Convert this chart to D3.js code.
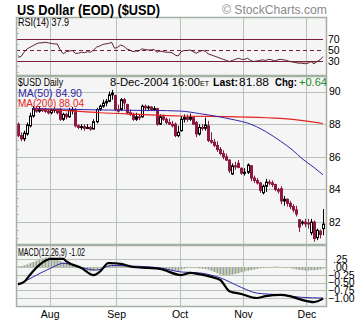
<!DOCTYPE html>
<html>
<head>
<meta charset="utf-8">
<script src="https://cdn.jsdelivr.net/npm/d3@7"></script>
<style>
  body { margin: 0; background: #fff; }
  svg { display: block; font-family: "Liberation Sans", Arial, sans-serif; }
  .axis text { font-size: 10.5px; fill: #000; font-family: "Liberation Sans", Arial, sans-serif; }
  .axis path, .axis line { display: none; }
</style>
</head>
<body>
<div id="chart"></div>
<script>
// trading days 16-Jul-2004 .. 8-Dec-2004, one entry per bar
const months = ["Aug", "Sep", "Oct", "Nov", "Dec"];
const monthStart = [11, 33, 54, 75, 96];

const open = [88.0,87.3,87.1,87.4,87.9,88.5,88.95,88.8,88.9,88.85,
  88.8,88.7,88.85,88.9,88.9,88.3,88.6,88.45,88.85,88.9,
  87.9,87.8,87.85,87.75,87.8,87.7,88.15,88.9,89.1,89.3,
  89.4,89.8,89.75,88.9,88.9,89.5,89.2,88.7,88.6,88.3,
  88.45,88.45,89.1,89.0,89.05,88.9,88.95,88.0,88.45,88.3,
  88.1,88.0,88.0,87.3,87.6,88.3,88.4,88.3,88.4,88.1,
  87.4,87.8,87.75,87.9,87.0,86.9,86.7,86.45,86.2,86.0,
  85.8,84.95,85.45,85.6,85.3,85.0,85.05,85.45,84.7,84.55,
  84.4,83.8,84.2,84.45,84.4,84.3,84.0,84.05,83.3,83.4,
  83.15,82.95,82.75,82.15,81.95,82.0,81.95,81.35,82.0,81.05,
  81.45,81.6];
const high = [88.1,87.5,87.6,88.1,88.7,89.1,89.1,89.1,89.0,89.0,
  88.95,88.95,89.05,88.95,89.0,88.7,88.7,89.0,89.05,89.0,
  88.0,88.0,88.0,88.0,87.9,88.3,89.0,89.2,89.5,89.55,
  90.0,90.1,89.8,89.2,89.6,89.6,89.25,88.9,88.7,88.7,
  88.6,89.2,89.2,89.15,89.1,89.1,89.0,88.6,88.6,88.4,
  88.35,88.2,88.1,87.9,88.5,88.6,88.6,88.65,88.5,88.2,
  88.0,88.0,88.4,88.2,87.5,87.1,86.95,86.6,86.4,86.2,
  85.85,85.6,85.7,85.8,85.35,85.3,85.6,85.5,84.85,84.7,
  84.45,84.3,84.65,84.6,84.55,84.35,84.1,84.2,83.6,83.45,
  83.3,83.1,83.0,82.15,82.1,82.2,82.2,82.2,82.1,81.6,
  81.55,82.8];
const low = [87.2,86.95,86.95,87.3,87.8,88.4,88.7,88.7,88.75,88.7,
  88.6,88.6,88.7,88.6,88.2,88.2,88.3,88.4,88.6,87.8,
  87.7,87.65,87.6,87.7,87.6,87.7,88.05,88.8,89.0,89.1,
  89.35,89.5,88.8,88.7,88.8,88.9,88.6,88.5,88.2,88.2,
  88.25,88.4,88.8,88.8,88.8,88.8,87.9,87.95,88.2,88.0,
  87.95,87.8,87.2,87.2,87.55,88.1,88.15,88.2,87.95,87.2,
  87.3,87.6,87.6,86.9,86.8,86.6,86.3,86.1,85.85,85.75,
  85.0,84.9,85.2,85.3,84.9,84.85,84.95,84.5,84.4,84.3,
  83.8,83.7,83.85,84.25,84.15,83.9,83.75,83.1,83.0,82.95,
  82.8,82.6,82.35,81.4,81.8,81.7,81.6,81.2,80.8,80.9,
  81.0,81.2];
const close = [87.3,87.1,87.45,87.95,88.5,88.95,88.8,88.9,88.85,88.8,
  88.7,88.85,88.9,88.7,88.3,88.6,88.45,88.85,88.9,87.9,
  87.8,87.85,87.75,87.8,87.7,88.15,88.9,89.1,89.3,89.4,
  89.8,89.9,88.9,88.8,89.5,89.3,88.7,88.6,88.3,88.45,
  88.4,89.1,89.0,89.05,88.9,88.95,88.0,88.45,88.3,88.1,
  88.0,87.9,87.3,87.5,88.3,88.4,88.3,88.45,88.0,87.4,
  87.8,87.75,87.95,87.0,86.9,86.7,86.45,86.2,86.0,85.8,
  85.15,85.45,85.4,85.35,85.0,85.05,85.5,84.7,84.55,84.4,
  83.95,84.2,84.45,84.4,84.3,84.0,83.9,83.3,83.4,83.15,
  82.95,82.75,82.5,81.7,82.0,81.9,81.9,82.0,81.0,81.5,
  81.24,81.88];

// moving averages, [bar, value]
const ma50 = [[5,88.95],[15,88.92],[25,88.88],[35,88.85],[45,88.84],[54,88.8],[60,88.65],
  [67,88.44],[72,88.25],[76,88.07],[82,87.55],[87,86.95],[91,86.4],[94,85.9],[98,85.35],[101,84.9]];
const ma200 = [[5,88.95],[15,88.85],[27,88.7],[40,88.6],[54,88.5],[73,88.45],[87,88.35],[95,88.2],[101,88.04]];

const rsi = [37,38,46,52,55,58,61,63,63,64,
  63,62,61,61,50,43,47,48,49,44,
  44,46,45,47,46,50,55,57,60,61,
  62,64,53,55,59,57,52,50,47,48,
  48,52,51,50,50,51,46,48,47,46,
  46,45,41,39,47,49,49,50,47,44,
  47,49,48,43,41,39,37,35,33,31,
  29,31,33,35,33,33,35,31,29,30,
  31,32,31,33,32,30,32,33,32,31,
  29,28,27,26,26,25,26,29,25,29,
  32,37.9];

const macd = [[0,-0.55],[2,-0.48],[4,-0.25],[7,0.06],[11,0.26],[15,0.26],[16,0.18],[21,-0.03],
  [25,-0.26],[27,-0.16],[30,0.13],[34,0.1],[38,0.0],[43,-0.03],[47,-0.06],[54,-0.26],[57,-0.19],
  [60,-0.23],[64,-0.32],[67,-0.42],[70,-0.78],[74,-0.87],[79,-1.0],[82,-0.94],[87,-0.9],
  [90,-0.94],[94,-1.06],[98,-1.13],[101,-1.02]];
const signal = [[0,-0.58],[5,-0.32],[11,-0.03],[15,0.12],[21,-0.02],[26,-0.1],[31,0.05],[38,0.03],
  [47,-0.03],[54,-0.16],[60,-0.19],[67,-0.35],[74,-0.66],[79,-0.84],[87,-0.9],[94,-0.98],[101,-1.0]];
const hist = [0.02,0.03,0.05,0.08,0.12,0.16,0.2,0.24,0.27,0.3,
  0.31,0.3,0.28,0.25,0.2,0.15,0.12,0.1,0.07,0.03,
  0.0,-0.04,-0.08,-0.12,-0.14,-0.13,-0.1,-0.05,0.0,0.05,
  0.08,0.1,0.08,0.06,0.05,0.04,0.03,0.02,0.01,0.0,
  0.0,0.01,0.01,0.0,-0.01,-0.02,-0.04,-0.05,-0.06,-0.08,
  -0.09,-0.1,-0.12,-0.13,-0.08,-0.05,-0.03,-0.02,-0.02,-0.03,
  -0.04,-0.05,-0.06,-0.08,-0.12,-0.16,-0.2,-0.24,-0.26,-0.27,
  -0.26,-0.24,-0.22,-0.2,-0.17,-0.14,-0.12,-0.1,-0.08,-0.06,
  -0.04,-0.03,-0.02,-0.01,0.0,0.01,0.01,0.0,-0.01,-0.02,
  -0.03,-0.05,-0.07,-0.09,-0.1,-0.11,-0.11,-0.1,-0.1,-0.09,
  -0.08,-0.05];

const priceTicks = [82, 84, 86, 88, 90];
const rsiTicks = [30, 50, 70];
const macdTicks = [0.25, 0, -0.25, -0.5, -0.75, -1.0];

// layout
const W = 360, H = 324;
const L = 16, R = 327;
const rsiBox = [17, 76], priceBox = [76, 245], macdBox = [245, 307];
const gridColor = "#b7c2b7", frameColor = "#a3b0a3", bg = "#f5f5f5";
const maroon = "#8c1a40";

let svg = d3.select("#chart").append("svg").attr("width", W).attr("height", H);

let x = d3.scaleLinear().domain([0, close.length - 1]).range([18, 323]);
let yRsi = d3.scaleLinear().domain([2.7, 110]).range([rsiBox[1], rsiBox[0]]);
let yPrice = d3.scaleLinear().domain([80.6, 90.95]).range([priceBox[1], priceBox[0]]);
let yMacd = d3.scaleLinear().domain([-1.29, 0.71]).range([macdBox[1], macdBox[0]]);

const px = v => Math.round(v) + 0.5;

function panel(box, id) {
    let g = svg.append("g");
    g.append("clipPath").attr("id", id).append("rect")
        .attr("x", L).attr("y", box[0]).attr("width", R - L).attr("height", box[1] - box[0]);
    g.append("rect")
        .attr("x", L).attr("y", box[0]).attr("width", R - L).attr("height", box[1] - box[0])
        .attr("fill", bg);
    // month grid
    g.selectAll("line.v").data(monthStart).join("line")
        .attr("x1", d => px(x(d - 0.5))).attr("x2", d => px(x(d - 0.5)))
        .attr("y1", box[0]).attr("y2", box[1])
        .attr("stroke", gridColor);
    return g;
}

function hgrid(g, ticks, y) {
    g.selectAll("line.h").data(ticks).join("line")
        .attr("x1", L).attr("x2", R)
        .attr("y1", d => px(y(d))).attr("y2", d => px(y(d)))
        .attr("stroke", gridColor);
}

function minorTicks(g, vals, y) {
    g.selectAll("line.m").data(vals).join("line")
        .attr("x1", L).attr("x2", L + 3)
        .attr("y1", d => px(y(d))).attr("y2", d => px(y(d)))
        .attr("stroke", gridColor);
}

function frame(box) {
    svg.append("rect")
        .attr("x", L + 0.5).attr("y", box[0] + 0.5)
        .attr("width", R - L - 1).attr("height", box[1] - box[0] - 1)
        .attr("fill", "none").attr("stroke", frameColor).attr("stroke-width", 1.5);
}

function text(xp, yp, str, opts = {}) {
    let t = svg.append("text")
        .attr("x", xp).attr("y", yp)
        .attr("font-size", opts.size || 10.5)
        .attr("font-weight", opts.bold ? "bold" : "normal")
        .attr("fill", opts.color || "#000")
        .text(str);
    if (opts.w) t.attr("textLength", opts.w).attr("lengthAdjust", "spacingAndGlyphs");
    return t;
}

// ---------- RSI ----------
let rsiG = panel(rsiBox, "clipRsi");
minorTicks(rsiG, [10, 20, 40, 60, 80, 90, 100], yRsi);
let rsiClip = rsiG.append("g").attr("clip-path", "url(#clipRsi)");
rsiClip.append("path")
    .datum(rsi)
    .attr("fill", "#d6b79c")
    .attr("d", d3.area()
        .x((d, i) => x(i))
        .y0(yRsi(30))
        .y1(d => yRsi(Math.min(d, 30))));
rsiClip.selectAll("line.lvl").data(rsiTicks).join("line")
    .attr("x1", L).attr("x2", x(close.length - 1))
    .attr("y1", d => px(yRsi(d))).attr("y2", d => px(yRsi(d)))
    .attr("stroke", "#7a1d45").attr("stroke-width", 1.2)
    .attr("stroke-dasharray", d => d === 50 ? "4,3" : null);
rsiClip.append("path")
    .datum(rsi)
    .attr("fill", "none").attr("stroke", "#5c1f2c").attr("stroke-width", 1)
    .attr("d", d3.line().x((d, i) => x(i)).y(d => yRsi(d)));
frame(rsiBox);

// ---------- Price ----------
let priceG = panel(priceBox, "clipPrice");
hgrid(priceG, priceTicks, yPrice);
minorTicks(priceG, d3.range(81, 91, 0.5), yPrice);
let bars = priceG.append("g").attr("clip-path", "url(#clipPrice)");
let candles = bars.selectAll("g.c").data(close).join("g");
candles.append("line")
    .attr("x1", (d, i) => px(x(i))).attr("x2", (d, i) => px(x(i)))
    .attr("y1", (d, i) => yPrice(high[i])).attr("y2", (d, i) => yPrice(low[i]))
    .attr("stroke", (d, i) => d >= open[i] ? "#000" : maroon);
candles.append("rect")
    .attr("x", (d, i) => px(x(i)) - 1)
    .attr("y", (d, i) => yPrice(Math.max(d, open[i])))
    .attr("width", 2)
    .attr("height", (d, i) => Math.max(1, Math.abs(yPrice(d) - yPrice(open[i]))))
    .attr("fill", (d, i) => d >= open[i] ? "#fff" : maroon)
    .attr("stroke", (d, i) => d >= open[i] ? "#000" : maroon)
    .attr("stroke-width", 1);

let maLine = d3.line().curve(d3.curveMonotoneX).x(d => x(d[0])).y(d => yPrice(d[1]));
bars.append("path").datum(ma200)
    .attr("fill", "none").attr("stroke", "#e52420").attr("stroke-width", 1.2).attr("d", maLine);
bars.append("path").datum(ma50)
    .attr("fill", "none").attr("stroke", "#3325a8").attr("stroke-width", 1).attr("d", maLine);
frame(priceBox);

// ---------- MACD ----------
let macdG = panel(macdBox, "clipMacd");
hgrid(macdG, macdTicks, yMacd);
let mClip = macdG.append("g").attr("clip-path", "url(#clipMacd)");
mClip.selectAll("rect.h").data(hist).join("rect")
    .attr("x", (d, i) => x(i) - 1.5)
    .attr("y", d => yMacd(Math.max(0, d)))
    .attr("width", 3)
    .attr("height", d => Math.max(0.8, Math.abs(yMacd(d) - yMacd(0))))
    .attr("fill", "#c9c79f");
mClip.selectAll("line.h").data(hist).join("line")
    .attr("x1", (d, i) => px(x(i))).attr("x2", (d, i) => px(x(i)))
    .attr("y1", yMacd(0)).attr("y2", d => yMacd(d))
    .attr("stroke", "#86a3c4").attr("stroke-width", 1);
let mLine = d3.line().curve(d3.curveMonotoneX).x(d => x(d[0])).y(d => yMacd(d[1]));
mClip.append("path").datum(signal)
    .attr("fill", "none").attr("stroke", "#3325a8").attr("stroke-width", 1).attr("d", mLine);
mClip.append("path").datum(macd)
    .attr("fill", "none").attr("stroke", "#000").attr("stroke-width", 2.2).attr("d", mLine);
frame(macdBox);

// ---------- axes ----------
svg.append("g").attr("class", "axis").attr("transform", `translate(${R},0)`)
    .call(d3.axisRight(yRsi).tickValues(rsiTicks).tickSize(0).tickPadding(1));
svg.append("g").attr("class", "axis").attr("transform", `translate(${R},0)`)
    .call(d3.axisRight(yPrice).tickValues(priceTicks).tickSize(0).tickPadding(2));
let macdAxis = svg.append("g").attr("class", "axis").attr("transform", `translate(${R},0)`)
    .call(d3.axisRight(yMacd).tickValues(macdTicks).tickSize(0).tickPadding(6)
        .tickFormat(d => d3.format(".2f")(d).replace(/^(-?)0\./, "$1.")));
macdAxis.selectAll("text").filter(d => d < 0).attr("dx", -5);
svg.append("g").attr("class", "axis").attr("transform", `translate(0,${macdBox[1]})`)
    .call(d3.axisBottom(x).tickValues(monthStart.map(d => d - 0.5)).tickSize(0).tickPadding(4)
        .tickFormat((d, i) => months[i]));

// ---------- labels ----------
text(17, 15, "US Dollar (EOD) ($USD)", { size: 15.5, bold: true, w: 143 });
text(222, 14, "\u00a9 StockCharts.com", { size: 13, color: "#8a8a8a", w: 105 });
text(18, 26, "RSI(14) 37.9", { w: 51 });
text(18, 86, "$USD Daily", { w: 45 });
text(110, 86, "8-Dec-2004 16:00", { w: 90 });
text(200, 86, "ET", { size: 7, w: 9 });
text(213, 86, "Last:", { bold: true, w: 25 });
text(239, 86, "81.88", { w: 30 });
text(275, 86, "Chg:", { bold: true, w: 22 });
text(299, 86, "+0.64", { color: "#1f8a2a", w: 28 });
text(18, 96.5, "MA(50) 84.90", { color: "#3325a8", w: 64 });
text(18, 107, "MA(200) 88.04", { color: "#e52420", w: 66 });
text(18, 256, "MACD(12,26,9) -1.02", { w: 67 });
</script>
</body>
</html>
